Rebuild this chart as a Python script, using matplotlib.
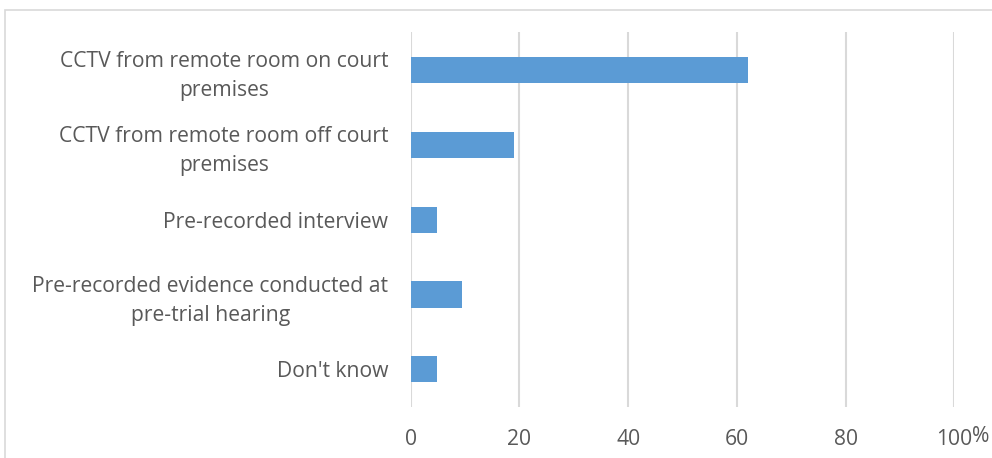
import matplotlib
matplotlib.use("Agg")
import matplotlib.pyplot as plt
from matplotlib.patches import Rectangle

# survey responses, percent
categories = [
    "CCTV from remote room on court\npremises",
    "CCTV from remote room off court\npremises",
    "Pre-recorded interview",
    "Pre-recorded evidence conducted at\npre-trial hearing",
    "Don't know",
]
values = [62.0, 19.0, 4.8, 9.5, 4.8]
xticks = [0, 20, 40, 60, 80, 100]
xticklabels = ["0", "20", "40", "60", "80", "100"]

bar_color = "#5B9BD5"
text_color = "#595959"
grid_color = "#D9D9D9"
fs = 15.2

plt.rcParams["font.family"] = ["Open Sans", "DejaVu Sans"]

fig = plt.figure(figsize=(9.92, 4.58), dpi=100)
ax = fig.add_axes([0.414, 0.1114, 0.548, 0.8186])

pos = list(range(len(categories)))
ax.barh(pos, values, height=0.347, color=bar_color, zorder=3)
ax.set_ylim(len(categories) - 0.5, -0.5)
ax.set_xlim(0, 100)

ax.set_yticks(pos)
ax.set_yticklabels(categories, fontsize=fs, color=text_color,
                   multialignment="center", linespacing=1.5)
ax.set_xticks(xticks)
ax.set_xticklabels(xticklabels, fontsize=fs, color=text_color)
ax.tick_params(axis="y", length=0, pad=16)
ax.tick_params(axis="x", length=0, pad=16)

ax.grid(axis="x", color=grid_color, linewidth=1.5, zorder=0)
for s in ax.spines.values():
    s.set_visible(False)

# outer chart frame (cut off on the right and bottom)
fig.patches.append(Rectangle((5 / 992, -0.1), 1.2, 1.1 - 10 / 458,
                             transform=fig.transFigure, fill=False,
                             edgecolor=grid_color, linewidth=1.2))

# "%" after the last tick label
fig.canvas.draw()
lab = ax.get_xticklabels()[-1]
bb = lab.get_window_extent()
fig.text(bb.x1, bb.y0 + 3, "%", transform=None, fontsize=fs,
         color=text_color, ha="left", va="bottom")

fig.savefig("out.png", dpi=100)
